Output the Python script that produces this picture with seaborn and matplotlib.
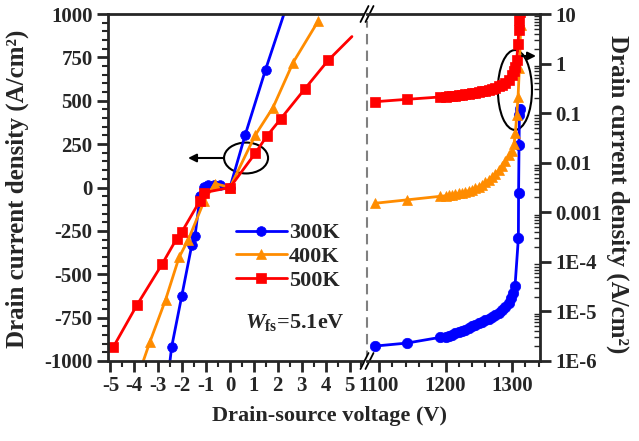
import numpy as np
import matplotlib
matplotlib.use("Agg")
import matplotlib.pyplot as plt
import seaborn as sns
from matplotlib.patches import Ellipse
from matplotlib.ticker import FixedLocator, FixedFormatter, MultipleLocator, LogLocator, NullFormatter

sns.set_style("ticks")
plt.rcParams['font.family'] = ['Liberation Serif', 'DejaVu Serif']
plt.rcParams['font.weight'] = 'bold'
plt.rcParams['axes.unicode_minus'] = False
plt.rcParams['mathtext.fontset'] = 'custom'
plt.rcParams['mathtext.rm'] = 'Liberation Serif:bold'
plt.rcParams['mathtext.it'] = 'Liberation Serif:italic:bold'
plt.rcParams['mathtext.bf'] = 'Liberation Serif:bold'

# ---- data ----
temps = ["300K", "400K", "500K"]
colors = ["#0000FF", "#FF8C00", "#FF0000"]
markers = ["o", "^", "s"]

# low voltage region (linear, A/cm2)
v_low_300 = [-2.55, -2.44, -2.02, -1.6, -1.46, -1.25, -1.1, -0.92, -0.67, -0.42, 0.0, 0.63, 1.49, 2.45]
j_low_300 = [-1050, -920, -628, -334, -277, -50, 5, 12, 12, 12, 0, 300, 680, 1080]
v_low_400 = [-3.75, -3.35, -2.69, -2.13, -1.74, -1.07, -0.63, 0.0, 1.05, 1.8, 2.64, 3.7]
j_low_400 = [-1050, -891, -646, -403, -300, -75, 23, 0, 300, 461, 720, 962]
v_low_500 = [-4.88, -3.9, -2.83, -2.23, -2.02, -1.25, -1.09, 0.0, 1.05, 1.53, 2.13, 3.14, 4.1, 5.1]
j_low_500 = [-920, -680, -440, -295, -258, -75, -30, 0, 196, 294, 397, 570, 732, 870]

# breakdown region (log, A/cm2)
v_high_300 = [1094, 1142, 1192, 1200, 1205, 1210, 1215, 1220, 1225, 1230, 1235, 1240, 1245, 1250,
              1255, 1260, 1265, 1270, 1275, 1280, 1285, 1290, 1295, 1298, 1302, 1304.5, 1309.5,
              1309.8, 1310.5, 1311, 1311.5]
j_high_300 = [2.0e-6, 2.3e-6, 3.0e-6, 3.1e-6, 3.25e-6, 3.4e-6, 3.6e-6, 3.8e-6, 4.0e-6, 4.3e-6,
              4.6e-6, 5.0e-6, 5.4e-6, 5.8e-6, 6.2e-6, 6.7e-6, 7.2e-6, 7.8e-6, 8.5e-6, 9.5e-6,
              1.08e-5, 1.25e-5, 1.5e-5, 1.85e-5, 2.3e-5, 3.3e-5, 3.0e-4, 2.5e-3, 0.023, 0.09, 0.12]
v_high_400 = [1094, 1142, 1192, 1200, 1205, 1210, 1215, 1220, 1225, 1230, 1235, 1240, 1245, 1250,
              1255, 1260, 1265, 1270, 1275, 1280, 1285, 1290, 1295, 1300, 1303, 1305, 1307, 1309,
              1311, 1313, 1315]
j_high_400 = [0.00152, 0.00178, 0.0021, 0.00215, 0.0022, 0.00226, 0.00233, 0.0024, 0.00249, 0.0026,
              0.00273, 0.00288, 0.00307, 0.0033, 0.0036, 0.0040, 0.0045, 0.0052, 0.0060, 0.0071,
              0.0087, 0.0108, 0.014, 0.017, 0.024, 0.04, 0.09, 0.21, 0.8, 6.0, 12.0]
v_high_500 = [1094, 1142, 1192, 1200, 1205, 1210, 1215, 1220, 1225, 1230, 1235, 1240, 1245, 1250,
              1255, 1260, 1265, 1270, 1275, 1280, 1285, 1290, 1295, 1300, 1303, 1305, 1307, 1309,
              1310, 1311, 1312]
j_high_500 = [0.170, 0.190, 0.212, 0.215, 0.218, 0.222, 0.226, 0.230, 0.235, 0.240, 0.246, 0.252,
              0.259, 0.266, 0.275, 0.285, 0.297, 0.311, 0.328, 0.350, 0.370, 0.40, 0.46, 0.58,
              0.72, 0.87, 1.2, 2.5, 4.7, 7.5, 11.0]

low_v = [v_low_300, v_low_400, v_low_500]
low_j = [j_low_300, j_low_400, j_low_500]
high_v = [v_high_300, v_high_400, v_high_500]
high_j = [j_high_300, j_high_400, j_high_500]

left_yticks = [-1000, -750, -500, -250, 0, 250, 500, 750, 1000]
left_xticks = [-5, -4, -3, -2, -1, 0, 1, 2, 3, 4, 5]
right_xticks = [1100, 1200, 1300]
right_yticks = [1e-6, 1e-5, 1e-4, 1e-3, 1e-2, 1e-1, 1, 10]
right_ylabels = ["1E-6", "1E-5", "1E-4", "0.001", "0.01", "0.1", "1", "10"]

# ---- figure ----
fig = plt.figure(figsize=(6.39, 4.41), dpi=100)
ax_l = fig.add_axes([108 / 639, 80 / 441, 259 / 639, 347 / 441])
ax_r = fig.add_axes([367 / 639, 80 / 441, 173 / 639, 347 / 441])

for i in range(3):
    me = slice(0, -1) if i == 2 else None
    sns.lineplot(x=low_v[i], y=low_j[i], ax=ax_l, color=colors[i], marker=markers[i],
                 markersize=7, linewidth=2, markeredgecolor=colors[i], markeredgewidth=0.5,
                 estimator=None, sort=False, label=temps[i], markevery=me)
    sns.lineplot(x=high_v[i], y=high_j[i], ax=ax_r, color=colors[i], marker=markers[i],
                 markersize=7.5, linewidth=2, markeredgecolor=colors[i], markeredgewidth=0.5,
                 estimator=None, sort=False, legend=False)

# left axis
ax_l.set_xlim(-5.1, 5.73)
ax_l.set_ylim(-1000, 1000)
ax_l.xaxis.set_major_locator(FixedLocator(left_xticks))
ax_l.yaxis.set_major_locator(FixedLocator(left_yticks))
ax_l.xaxis.set_minor_locator(MultipleLocator(0.5))
ax_l.yaxis.set_minor_locator(MultipleLocator(50))
ax_l.spines['right'].set_visible(False)
ax_l.tick_params(which='major', direction='out', length=8, width=2, labelsize=15, pad=3)
ax_l.tick_params(which='minor', direction='out', length=4, width=1.5)
ax_l.set_xlabel("")
ax_l.set_ylabel("")

# right axis
ax_r.set_yscale('log')
ax_r.set_xlim(1082, 1342)
ax_r.set_ylim(1e-6, 10)
ax_r.xaxis.set_major_locator(FixedLocator(right_xticks))
ax_r.xaxis.set_minor_locator(MultipleLocator(20))
ax_r.yaxis.set_major_locator(FixedLocator(right_yticks))
ax_r.yaxis.set_major_formatter(FixedFormatter(right_ylabels))
ax_r.yaxis.set_minor_locator(LogLocator(base=10, subs=np.arange(2, 10), numticks=20))
ax_r.yaxis.set_minor_formatter(NullFormatter())
ax_r.spines['left'].set_visible(False)
ax_r.yaxis.tick_right()
ax_r.tick_params(axis='x', which='major', direction='out', length=8, width=2, labelsize=15, pad=3)
ax_r.tick_params(axis='x', which='minor', direction='out', length=4, width=1.5)
ax_r.tick_params(axis='y', which='major', direction='out', length=8, width=2, labelsize=15,
                 left=False, right=True, pad=3)
ax_r.tick_params(axis='y', which='minor', direction='in', length=4, width=1, left=False, right=True)
ax_r.set_xlabel("")
ax_r.set_ylabel("")

for ax in (ax_l, ax_r):
    for s in ax.spines.values():
        s.set_linewidth(2)

# legend and labels
ax_l.legend(loc='center left', bbox_to_anchor=(0.45, 0.3), frameon=False, fontsize=16,
            handlelength=2.3, handletextpad=0.1, labelspacing=0.15, borderpad=0)
ax_l.text(0.72, 0.11, r'$W_{\mathbf{fs}}$=5.1eV', transform=ax_l.transAxes,
          ha='center', va='center', fontsize=16)

fig.text(0.516, 0.057, "Drain-source voltage (V)", ha='center', va='center', fontsize=16)
fig.text(0.027, 0.571, "Drain current density (A/cm²)", ha='center', va='center',
         rotation=90, fontsize=18)
fig.text(0.967, 0.56, "Drain current density (A/cm²)", ha='center', va='center',
         rotation=-90, fontsize=18)

# axis break: dashed line and // marks
ax_r.plot([0, 0], [0, 0.98], transform=ax_r.transAxes, ls=(0, (5, 3)), color='gray',
          lw=1.5, clip_on=False)
dx, dy = 4 / 173, 8 / 347
for yb in (0, 1):
    ax_r.plot([-dx, dx], [yb - dy, yb + dy], transform=ax_r.transAxes, color='white',
              lw=4, clip_on=False, solid_capstyle='butt')
    for off in (-2.5 / 173, 2.5 / 173):
        ax_r.plot([-dx + off, dx + off], [yb - dy, yb + dy], transform=ax_r.transAxes,
                  color='black', lw=1.3, clip_on=False)

# annotations
ax_l.add_patch(Ellipse((0.533, 0.585), 0.170, 0.089, transform=ax_l.transAxes,
                       fill=False, ec='black', lw=1.5, clip_on=False))
ax_l.annotate('', xy=(0.309, 0.585), xytext=(0.448, 0.585), xycoords='axes fraction',
              arrowprops=dict(arrowstyle='-|>', color='black', lw=1.5, mutation_scale=12,
                              shrinkA=0, shrinkB=0))
ax_r.add_patch(Ellipse((0.855, 0.781), 0.197, 0.23, transform=ax_r.transAxes,
                       fill=False, ec='black', lw=1.5, clip_on=False))
ax_r.annotate('', xy=(0.977, 0.879), xytext=(0.896, 0.879), xycoords='axes fraction',
              arrowprops=dict(arrowstyle='-|>', color='black', lw=1.5, mutation_scale=12,
                              shrinkA=0, shrinkB=0))

fig.savefig("out.png", dpi=100)
